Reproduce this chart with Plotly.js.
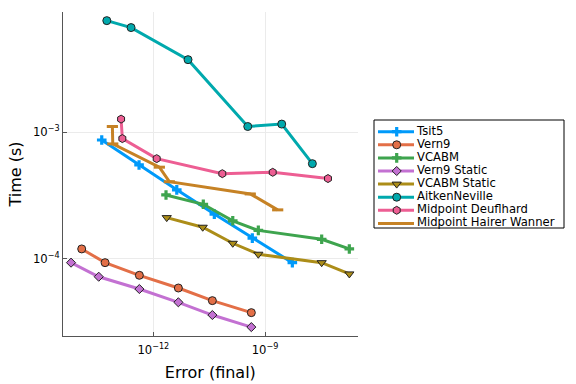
<!DOCTYPE html>
<html>
<head>
<meta charset="utf-8">
<script src="https://cdn.plot.ly/plotly-3.0.1.min.js"></script>
<style>html,body{margin:0;padding:0;background:#fff;}#chart{width:576px;height:384px;}</style>
</head>
<body>
<div id="chart"></div>
<script>
// ---- data ----
const seriesNames = ["Tsit5","Vern9","VCABM","Vern9 Static","VCABM Static","AitkenNeville","Midpoint Deuflhard","Midpoint Hairer Wanner"];

const tsit5Err  = [4.11e-14, 4.13e-13, 4.26e-12, 4.35e-11, 4.56e-10, 5.42e-9];
const tsit5Time = [8.69e-4, 5.52e-4, 3.51e-4, 2.26e-4, 1.46e-4, 9.35e-5];

const vern9Err  = [1.19e-14, 5.05e-14, 4.21e-13, 4.70e-12, 3.85e-11, 4.29e-10];
const vern9Time = [1.20e-4, 9.35e-5, 7.43e-5, 5.90e-5, 4.69e-5, 3.77e-5];

const vcabmErr  = [2.19e-12, 2.20e-11, 1.36e-10, 6.61e-10, 3.33e-8, 1.84e-7];
const vcabmTime = [3.20e-4, 2.70e-4, 2.00e-4, 1.68e-4, 1.43e-4, 1.20e-4];

const vern9StaticErr  = [6.15e-15, 3.41e-14, 4.21e-13, 4.70e-12, 3.85e-11, 4.29e-10];
const vern9StaticTime = [9.35e-5, 7.24e-5, 5.79e-5, 4.55e-5, 3.61e-5, 2.90e-5];

const vcabmStaticErr  = [2.29e-12, 2.12e-11, 1.36e-10, 6.61e-10, 3.33e-8, 1.84e-7];
const vcabmStaticTime = [2.12e-4, 1.78e-4, 1.33e-4, 1.09e-4, 9.35e-5, 7.62e-5];

const aitkenErr  = [5.62e-14, 2.52e-13, 8.55e-12, 3.44e-10, 2.81e-9, 1.87e-8];
const aitkenTime = [7.60e-3, 6.70e-3, 3.74e-3, 1.11e-3, 1.16e-3, 5.65e-4];

const deuflhardErr  = [1.36e-13, 1.47e-13, 1.23e-12, 7.13e-11, 1.61e-9, 4.92e-8];
const deuflhardTime = [1.27e-3, 8.91e-4, 6.19e-4, 4.71e-4, 4.83e-4, 4.31e-4];

const hwErr  = [7.93e-14, 8.13e-14, 1.45e-12, 2.69e-12, 4.02e-10, 2.19e-9];
const hwTime = [1.11e-3, 8.09e-4, 5.30e-4, 4.07e-4, 3.26e-4, 2.44e-4];

const xTickVals = [1e-12, 1e-9];
const xTickText = ["10<sup>\u221212</sup>", "10<sup>\u22129</sup>"];
const yTickVals = [1e-4, 1e-3];
const yTickText = ["10<sup>\u22124</sup>", "10<sup>\u22123</sup>"];

// ---- styles ----
const styles = [
  {color:"#009AFA", symbol:"cross",        size:8, lw:0},
  {color:"#E36F47", symbol:"circle",       size:8, lw:1},
  {color:"#3EA44E", symbol:"cross",        size:8, lw:0},
  {color:"#C371D2", symbol:"diamond",      size:7, lw:1},
  {color:"#AC8D18", symbol:"triangle-down",size:8, lw:1},
  {color:"#00A9AD", symbol:"circle",       size:8, lw:1},
  {color:"#ED5E93", symbol:"hexagon",      size:8, lw:1},
  {color:"#C68225", symbol:"line-ew",      size:8, lw:3}
];
const dataX = [tsit5Err, vern9Err, vcabmErr, vern9StaticErr, vcabmStaticErr, aitkenErr, deuflhardErr, hwErr];
const dataY = [tsit5Time, vern9Time, vcabmTime, vern9StaticTime, vcabmStaticTime, aitkenTime, deuflhardTime, hwTime];

const FONT = "DejaVu Sans";
const tickSize = 11.6, titleSize = 16, legendSize = 11.6;

function markerFor(s){
  const lineColor = (s.symbol === "line-ew" || s.symbol === "cross") ? s.color : "#222222";
  return {symbol:s.symbol, size:s.size, color:s.color, line:{color:lineColor, width:s.lw}};
}

const traces = [];
seriesNames.forEach((name,i)=>{
  const s = styles[i];
  traces.push({
    type:"scatter", mode:"lines+markers", name:name,
    x:dataX[i], y:dataY[i], xaxis:"x", yaxis:"y",
    line:{color:s.color, width:3},
    marker:markerFor(s),
    showlegend:false, cliponaxis:false
  });
});

// ---- custom legend (drawn on an auxiliary axis pair) ----
const rowTop = 11.7, rowGap = 13.1;
const rowY = seriesNames.map((_,i)=> rowTop + rowGap*i);
seriesNames.forEach((name,i)=>{
  const s = styles[i];
  const yy = rowY[i];
  traces.push({type:"scatter", mode:"lines", x:[4,40], y:[yy,yy], xaxis:"x2", yaxis:"y2",
    line:{color:s.color, width:3}, showlegend:false, hoverinfo:"skip"});
  if (s.symbol !== "line-ew") {
    traces.push({type:"scatter", mode:"markers", x:[22.7], y:[yy], xaxis:"x2", yaxis:"y2",
      marker:markerFor(s), showlegend:false, hoverinfo:"skip"});
  }
});
traces.push({type:"scatter", mode:"text", x:seriesNames.map(()=>43), y:rowY, text:seriesNames,
  textposition:"middle right", textfont:{family:FONT, size:legendSize, color:"#000"},
  xaxis:"x2", yaxis:"y2", showlegend:false, hoverinfo:"skip", cliponaxis:false});

const plotW = 294.7, paperW = 501;
const layout = {
  width:576, height:384,
  margin:{l:63, r:12, t:12, b:48},
  paper_bgcolor:"#fff", plot_bgcolor:"#fff",
  font:{family:FONT, size:tickSize, color:"#000"},
  showlegend:false,
  xaxis:{
    type:"log", domain:[0, plotW/paperW], range:[-14.427, -6.51],
    tickvals:xTickVals, ticktext:xTickText,
    showgrid:true, gridcolor:"#ebebeb", gridwidth:1,
    zeroline:false, showline:true, linecolor:"#555", linewidth:1, mirror:false,
    ticks:"inside", ticklen:4, tickcolor:"#555", ticklabelstandoff:3,
    tickfont:{family:FONT, size:tickSize, color:"#000"},
    title:{text:"Error (final)", font:{family:FONT, size:titleSize, color:"#000"}, standoff:10}
  },
  yaxis:{
    type:"log", domain:[0,1], range:[-4.608, -2.051],
    tickvals:yTickVals, ticktext:yTickText,
    showgrid:true, gridcolor:"#ebebeb", gridwidth:1,
    zeroline:false, showline:true, linecolor:"#555", linewidth:1, mirror:false,
    ticks:"inside", ticklen:4, tickcolor:"#555",
    tickfont:{family:FONT, size:tickSize, color:"#000"},
    title:{text:"Time (s)", font:{family:FONT, size:titleSize, color:"#000"}, standoff:7}
  },
  xaxis2:{domain:[(374-63)/paperW, 1], range:[0,190], visible:false, fixedrange:true, anchor:"y2"},
  yaxis2:{domain:[(336-228)/324, (336-120)/324], range:[108,0], visible:false, fixedrange:true, anchor:"x2"},
  shapes:[{type:"rect", xref:"paper", yref:"paper",
    x0:(374-63)/paperW, x1:1, y0:(336-228)/324, y1:(336-120)/324,
    line:{color:"#000", width:1}, fillcolor:"rgba(0,0,0,0)", layer:"below"}]
};

Plotly.newPlot("chart", traces, layout, {displayModeBar:false, staticPlot:true});
</script>
</body>
</html>
